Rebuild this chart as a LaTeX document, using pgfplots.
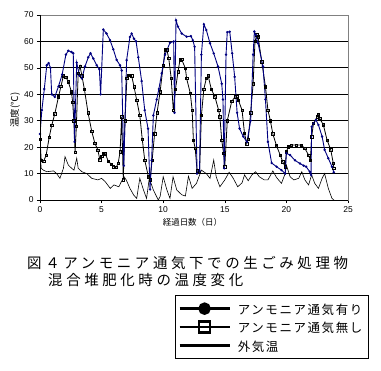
\documentclass[border=0pt]{standalone}
\usepackage{fontspec}
\setmainfont{Liberation Sans}
\newfontfamily\jp{Noto Sans CJK JP}
\newfontfamily\jpt{Noto Sans CJK JP}[LetterSpace=25]
\newfontfamily\jpl{Noto Sans CJK JP}[LetterSpace=13]
\usepackage{pgfplots}
\pgfplotsset{compat=1.18}
\definecolor{navyb}{RGB}{0,0,128}
\definecolor{axgray}{RGB}{128,128,128}
\begin{document}
\begin{tikzpicture}
\path[use as bounding box] (0,0) rectangle (381bp,371bp);
\begin{axis}[
  at={(40bp,171bp)}, anchor=south west,
  scale only axis, width=308bp, height=185bp,
  xmin=0, xmax=25, ymin=0, ymax=70,
  xtick={0,5,...,25}, ytick={0,10,...,70},
  xtick pos=left, ytick pos=left,
  extra y ticks={10,20,...,60}, extra y tick labels={},
  extra y tick style={grid=major, major tick length=0pt},
  grid style={black, line width=0.8bp},
  axis line style={axgray, line width=0.8bp},
  tick style={black, line width=0.6bp},
  tick align=outside, major tick length=3bp,
  /pgf/number format/assume math mode=true,
  ticklabel style={font=\fontsize{8.5}{9}\selectfont},
  xlabel={\jp 経過日数（日）},
  ylabel={\jp 温度(℃)},
  xlabel style={at={(axis description cs:0.495,-0.119)}, anchor=center, font=\fontsize{8.5}{10}\selectfont},
  ylabel style={at={(axis description cs:-0.081,0.486)}, anchor=center, font=\fontsize{9.5}{10}\selectfont},
  legend style={at={(0.438,-0.5135)}, anchor=north west, draw=black, line width=0.8bp,
    font=\jpl\fontsize{12.5}{14}\selectfont, inner xsep=3bp, inner ysep=5bp, row sep=2bp,
    column sep=4bp,
    cells={anchor=west}, nodes={inner xsep=3bp, inner ysep=1bp, text height=13bp, text depth=1.5bp}},
  legend image post style={line width=2.5bp},
  legend image code/.code={\draw[mark repeat=2,mark phase=2] plot coordinates {(0bp,0bp) (25bp,0bp) (50bp,0bp)};},
  after end axis/.code={\draw[black, line width=0.8bp] (rel axis cs:0,1) -- (rel axis cs:0,0) -- (rel axis cs:1,0);},
]
% outside air temperature
\addplot[black, line width=0.6bp, forget plot] coordinates {
(0.0,17.5) (0.1,12) (0.27,11.3) (0.55,10.7) (1.1,11) (1.35,10) (1.62,8.2) (1.9,12) (2.03,16.4)
(2.3,13.2) (2.57,12) (2.76,11.3) (2.98,15.8) (3.1,12) (3.4,10.7) (3.8,10) (4.2,8.2) (4.7,7.6)
(5.0,8.2) (5.3,6.9) (5.7,4.4) (6.0,5.7) (6.4,5) (6.6,6.9) (6.82,8.8) (7.0,7.6) (7.3,4.4) (7.6,1.9)
(7.85,0.6) (8.1,8.2) (8.4,3.8) (8.65,0.6) (8.87,8.2) (9.2,3.8) (9.6,0) (9.75,1.3) (10.0,8.8)
(10.3,3.8) (10.55,0.6) (10.8,8.8) (11.1,3.8) (11.5,2) (11.8,1.5) (12.05,9) (12.35,4.4) (12.7,6.3)
(13.1,11.3) (13.5,10) (13.8,8.2) (14.1,15.1) (14.3,8.8) (14.6,5) (15.0,7.6) (15.35,10.5) (15.65,8.5)
(16.05,5) (16.4,6.5) (16.6,9.5) (16.9,7.3) (17.2,9.5) (17.5,10.7) (17.8,8.8) (18.2,7.6) (18.5,7.6)
(18.9,11) (19.2,8.5) (19.6,6.3) (19.9,10) (20.0,13.2) (20.3,8.8) (20.6,7.6) (21.0,8.2) (21.25,10.7)
(21.5,7.6) (21.8,5.7) (22.05,9.5) (22.3,6.3) (22.6,4.4) (22.9,8.2) (23.1,10) (23.4,4.4) (23.7,0.6) (23.85,0)
};
% without ammonia aeration
\addplot[black, line width=0.8bp, mark=square, mark size=1.2bp, mark options={fill=white, line width=0.5bp}, forget plot] coordinates {
(0.0,23) (0.1,15) (0.3,14.7) (0.5,17) (0.75,23.8) (0.95,28.2) (1.2,32.6) (1.5,39) (1.7,43) (1.9,47)
(2.1,46.5) (2.3,44.7) (2.55,41) (2.65,37) (2.75,30) (2.85,18) (2.95,28) (3.1,48) (3.25,50.7) (3.4,47)
(3.6,42) (3.9,33) (4.2,26) (4.45,21.5) (4.7,18.9) (4.85,15.3) (5.0,16.5) (5.15,17.7) (5.3,17.5)
(5.55,14.6) (5.8,13.5) (5.95,12.6) (6.2,12.5) (6.35,14) (6.5,18.3) (6.63,31.5) (6.76,7.6) (6.9,30)
(7.05,46) (7.17,47.3) (7.3,47.3) (7.44,47) (7.63,42.9) (7.85,37.8) (8.1,32) (8.3,23) (8.5,15.1)
(8.8,8.8) (8.93,7.6) (9.1,15) (9.3,25) (9.5,33) (9.75,41) (10.0,51) (10.15,56.8) (10.3,56.8)
(10.45,53.6) (10.65,46) (10.82,34) (11.0,42) (11.2,48.5) (11.36,53) (11.5,53.2) (11.8,49.8) (11.9,46)
(12.2,40.4) (12.35,34) (12.45,22.7) (12.6,19.5) (12.75,11) (12.95,10.5) (13.1,32) (13.3,42) (13.5,46)
(13.65,47) (13.9,42) (14.2,39) (14.5,34) (14.6,31.5) (14.75,22.7) (14.9,17.7) (15.0,12.6) (15.2,30)
(15.56,37.3) (15.83,39) (16.0,39) (16.1,37.8) (16.4,34) (16.6,25.2) (16.78,21.3) (16.9,23) (17.1,33)
(17.3,44) (17.45,60) (17.6,62.5) (17.7,61.8) (18.0,52.3) (18.3,42.9) (18.5,34) (18.7,30) (18.9,25)
(19.2,20.5) (19.5,17) (19.7,14.5) (19.9,12.6) (20.0,18.3) (20.15,20.2) (20.4,20.8) (20.8,20.8)
(21.2,20.8) (21.5,19.5) (21.8,17) (21.95,15) (22.05,24) (22.2,29) (22.5,31.5) (22.6,32.2) (22.7,30.9)
(23.0,28.4) (23.3,22.7) (23.6,19) (23.8,14) (23.85,12)
};
% with ammonia aeration
\addplot[navyb, line width=0.9bp, mark=*, mark size=0.7bp, forget plot] coordinates {
(0.0,25) (0.15,34) (0.35,42) (0.55,51) (0.7,51.8) (0.85,50) (0.95,40) (1.2,39) (1.5,43) (1.8,47.5)
(2.1,55) (2.3,56.5) (2.55,56) (2.7,55.5) (2.8,22) (2.98,52) (3.2,47) (3.4,46) (3.65,50.5) (3.92,54)
(4.1,55.5) (4.33,53.5) (4.6,51) (4.82,49.5) (4.92,40) (5.14,64.5) (5.4,63) (5.68,60.5) (5.95,57)
(6.22,53) (6.49,51) (6.63,49) (6.8,13) (7.03,52.9) (7.3,61.7) (7.44,63) (7.63,61) (7.8,60) (7.98,54)
(8.25,45) (8.5,34) (8.77,27) (8.93,4) (9.06,15) (9.2,32) (9.47,38) (9.65,42) (9.88,48) (10.15,55)
(10.55,59.5) (10.85,60) (10.92,33) (11.04,68) (11.2,65.6) (11.5,63) (11.9,61.8) (12.25,62) (12.4,60.5)
(12.55,58) (12.75,10) (12.95,11) (13.1,55) (13.3,66.5) (13.5,64.3) (13.8,59.3) (14.1,55.5) (14.45,50.5)
(14.75,44) (14.85,38) (14.95,12) (15.1,55) (15.2,63.5) (15.4,63.7) (15.6,55.5) (15.8,46.6) (16.0,33)
(16.2,27) (16.5,24) (16.8,22) (17.1,30) (17.3,55) (17.4,63.7) (17.5,62.5) (17.7,59.3) (18.1,50.5)
(18.3,38) (18.5,22) (18.8,14) (19.2,12.6) (19.6,11.3) (19.9,10) (20.0,17.7) (20.3,17) (20.7,15)
(21.1,13.8) (21.4,13) (21.6,12.6) (21.9,10.7) (22.0,9.5) (22.05,27.7) (22.2,29) (22.4,30.3) (22.6,28.4)
(22.9,24) (23.1,19) (23.4,15.8) (23.7,12.6) (23.85,10.5)
};
\addlegendimage{black, mark=*, mark size=5bp}
\addlegendentry{アンモニア通気有り}
\addlegendimage{black, mark=square, mark size=5.5bp, mark options={fill=white}}
\addlegendentry{アンモニア通気無し}
\addlegendimage{black}
\addlegendentry{外気温}
\end{axis}
\node[anchor=west, inner sep=0pt] at (27bp,108bp) {\jpt\fontsize{14.5}{16}\selectfont 図４アンモニア通気下での生ごみ処理物};
\node[anchor=west, inner sep=0pt] at (48bp,91bp) {\jpt\fontsize{14.5}{16}\selectfont 混合堆肥化時の温度変化};
\end{tikzpicture}
\end{document}
